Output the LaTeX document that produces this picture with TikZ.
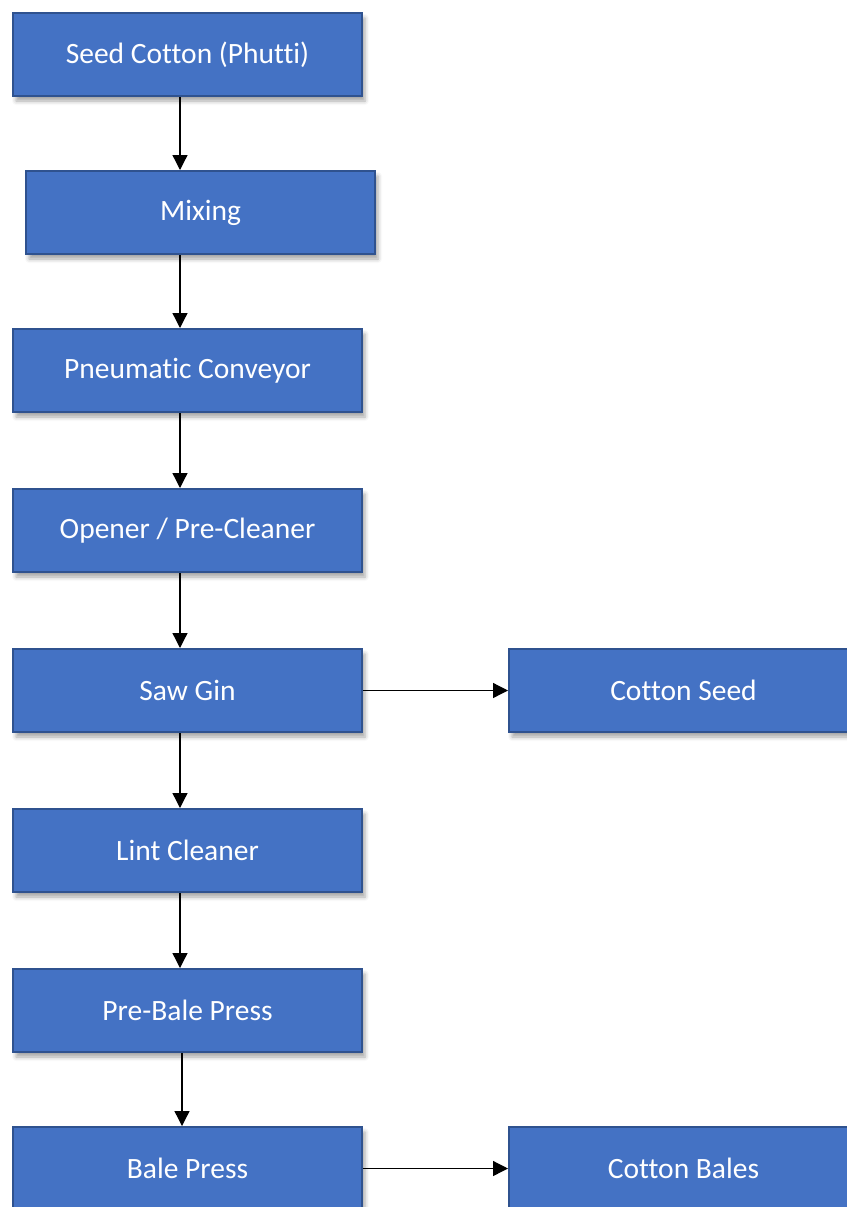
\documentclass[tikz,border=0pt]{standalone}
\usepackage{fontspec}
\setmainfont{Carlito}[Ligatures={NoCommon}]
\usetikzlibrary{shadows.blur,arrows.meta}
\definecolor{boxfill}{HTML}{4472C4}
\definecolor{boxline}{HTML}{2F528F}
\begin{document}
\begin{tikzpicture}[x=1pt,y=-1pt,
  stage/.style={draw=boxline, line width=2pt, fill=boxfill, text=white,
    minimum width=349pt, minimum height=83pt, inner sep=0pt, anchor=north west,
    font=\fontsize{29.5}{35}\selectfont,
    blur shadow={shadow xshift=3pt, shadow yshift=-5pt, shadow blur radius=4pt, shadow opacity=35}},
  flow/.style={-{Triangle[width=15pt,length=15pt]}, line width=1.3pt, black}]
\useasboundingbox (0,0) rectangle (846,1207);
\node[stage] (s1) at (12,12) {Seed Cotton (Phutti)};
\node[stage] (s2) at (25,170) {Mixing};
\node[stage] (s3) at (12,328) {Pneumatic Conveyor};
\node[stage] (s4) at (12,488) {Opener / Pre-Cleaner};
\node[stage] (s5) at (12,648) {Saw Gin};
\node[stage] (cs) at (508,648) {Cotton Seed};
\node[stage] (s6) at (12,808) {Lint Cleaner};
\node[stage] (s7) at (12,968) {Pre-Bale Press};
\node[stage] (s8) at (12,1126) {Bale Press};
\node[stage] (cb) at (508,1126) {Cotton Bales};
\coordinate (ax) at (180,0);
\coordinate (bx) at (182,0);
\draw[flow] (s1.south -| ax) -- (s2.north -| ax);
\draw[flow] (s2.south -| ax) -- (s3.north -| ax);
\draw[flow] (s3.south -| ax) -- (s4.north -| ax);
\draw[flow] (s4.south -| ax) -- (s5.north -| ax);
\draw[flow] (s5.south -| ax) -- (s6.north -| ax);
\draw[flow] (s6.south -| ax) -- (s7.north -| ax);
\draw[flow] (s7.south -| bx) -- (s8.north -| bx);
\draw[flow] (s5.east) -- (cs.west);
\draw[flow] (s8.east) -- (cb.west);
\end{tikzpicture}
\end{document}
